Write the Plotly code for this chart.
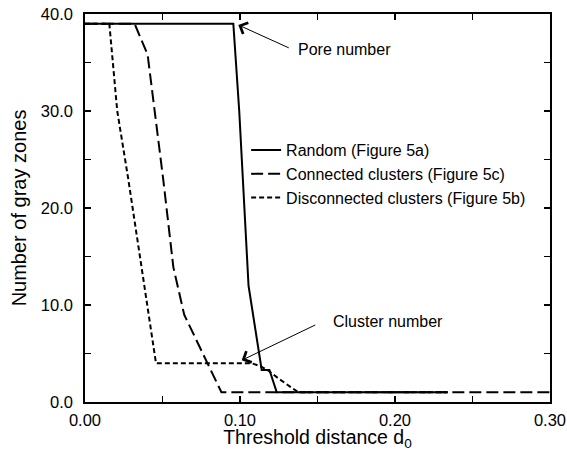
import plotly.graph_objects as go

# Data
x_random = [0.0, 0.0957, 0.0995, 0.103, 0.1055, 0.114, 0.119, 0.1237, 0.234]
y_random = [39, 39, 30, 19, 12, 3.3, 3.3, 1, 1]

x_connected = [0.0, 0.032, 0.0404, 0.0505, 0.057, 0.064, 0.088, 0.30]
y_connected = [39, 39, 35.8, 22.9, 13.9, 9.0, 1, 1]

x_disconnected = [0.0, 0.0157, 0.0208, 0.028, 0.0458, 0.1075, 0.113, 0.118, 0.125, 0.1376, 0.234]
y_disconnected = [39, 39, 30, 22.9, 4, 4, 3.7, 3.27, 2.4, 1, 1]

series_names = ["Random (Figure 5a)", "Connected clusters (Figure 5c)", "Disconnected clusters (Figure 5b)"]

# annotation anchors (data coords)
pore_tip = (0.0989, 38.87)
pore_tail = (0.1334, 36.37)
pore_label = (0.1360, 36.3)
cluster_tip = (0.1011, 4.3)
cluster_tail = (0.1505, 8.09)
cluster_label = (0.1590, 8.3)

FONT = "Liberation Sans, Arial, Helvetica, sans-serif"

fig = go.Figure()
fig.add_trace(go.Scatter(x=x_random, y=y_random, mode="lines", name=series_names[0],
                         line=dict(color="black", width=2, dash="solid")))
fig.add_trace(go.Scatter(x=x_connected, y=y_connected, mode="lines", name=series_names[1],
                         line=dict(color="black", width=2, dash="12px,5px")))
fig.add_trace(go.Scatter(x=x_disconnected, y=y_disconnected, mode="lines", name=series_names[2],
                         line=dict(color="black", width=2, dash="5px,3px")))

fig.add_annotation(x=pore_tip[0], y=pore_tip[1], ax=pore_tail[0], ay=pore_tail[1],
                   xref="x", yref="y", axref="x", ayref="y", text=" ", showarrow=True,
                   arrowhead=4, arrowsize=2.4, arrowwidth=1, arrowcolor="black")
fig.add_annotation(x=cluster_tip[0], y=cluster_tip[1], ax=cluster_tail[0], ay=cluster_tail[1],
                   xref="x", yref="y", axref="x", ayref="y", text=" ", showarrow=True,
                   arrowhead=4, arrowsize=2.4, arrowwidth=1, arrowcolor="black")
fig.add_annotation(x=pore_label[0], y=pore_label[1], xref="x", yref="y", text="Pore number",
                   showarrow=False, xanchor="left", yanchor="middle",
                   font=dict(family=FONT, size=16, color="black"))
fig.add_annotation(x=cluster_label[0], y=cluster_label[1], xref="x", yref="y", text="Cluster number",
                   showarrow=False, xanchor="left", yanchor="middle",
                   font=dict(family=FONT, size=16, color="black"))

axis_common = dict(showline=True, linecolor="black", linewidth=1.5, mirror="ticks",
                   ticks="inside", ticklen=6, tickwidth=1.5, tickcolor="black",
                   showgrid=False, zeroline=False, automargin=False,
                   tickfont=dict(family=FONT, size=16.5, color="black"))

fig.update_xaxes(range=[0, 0.3], dtick=0.1, tickformat=".2f", ticklabelstandoff=2,
                 minor=dict(dtick=0.05, ticks="inside", ticklen=6, tickwidth=1, tickcolor="black"),
                 title=dict(text="Threshold distance d<sub>0</sub>", standoff=8,
                            font=dict(family=FONT, size=19.5, color="black")),
                 **axis_common)
fig.update_yaxes(range=[0, 40], dtick=10, tickformat=".1f", ticklabelstandoff=7,
                 minor=dict(dtick=5, ticks="inside", ticklen=6, tickwidth=1, tickcolor="black"),
                 title=dict(text="Number of gray zones", standoff=9,
                            font=dict(family=FONT, size=20, color="black")),
                 **axis_common)

fig.update_layout(
    width=567, height=451,
    margin=dict(l=85, r=17, t=14, b=49, autoexpand=False),
    paper_bgcolor="white", plot_bgcolor="white",
    font=dict(family=FONT, color="black"),
    showlegend=True,
    legend=dict(x=0.3465, y=0.693, xanchor="left", yanchor="top",
                bgcolor="rgba(0,0,0,0)", borderwidth=0,
                font=dict(family=FONT, size=16, color="black"),
                tracegroupgap=0),
)

# remove the default page margin so the figure sits at the window's top-left corner
fig.write_html("out.html", config={"displayModeBar": False},
               post_script="document.body.style.margin='0';document.body.style.overflow='hidden';")
